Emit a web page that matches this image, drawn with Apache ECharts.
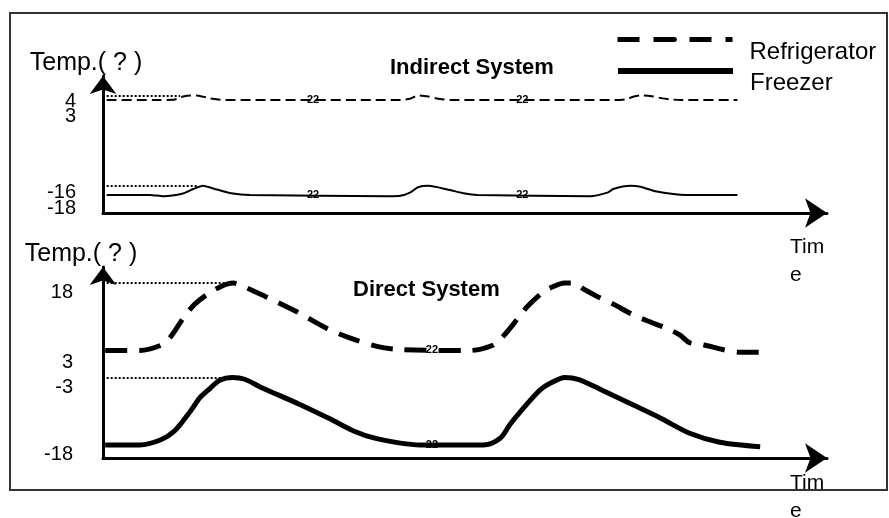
<!DOCTYPE html>
<html><head><meta charset="utf-8">
<script src="https://cdn.jsdelivr.net/npm/echarts@6/dist/echarts.min.js"></script>
<style>html,body{margin:0;padding:0;background:#fff}#c{width:889px;height:518px}</style>
</head><body><div id="c"></div><script>
// ---- data ----
const seriesNames = ['Refrigerator', 'Freezer'];
const panelTitles = ['Indirect System', 'Direct System'];
const yAxisTitle = 'Temp.( ? )';
const xAxisTitle = 'Tim\ne';

const topTickValues = [4, 3, -16, -18];
const topTickLabels = ['4', '3', '-16', '-18'];
const bottomTickValues = [18, 3, -3, -18];
const bottomTickLabels = ['18', '3', '-3', '-18'];

// Indirect system (time in arbitrary units, temperature in degrees)
const topFridgeTime = [0.5, 7.8, 9.8, 10.9, 11.9, 13.2, 14.6, 15.7, 16.6, 40.5, 41.8, 42.9, 44.3, 45.9, 47.3, 70.4, 71.1, 72.3, 73.2, 74.5, 76.2, 77.5, 78.6, 86.4];
const topFridgeTemp = [3, 3, 3.1, 3.75, 4, 3.9, 3.35, 3.1, 3, 3, 3.25, 4, 3.75, 3.2, 3, 3, 3.1, 3.75, 4, 3.9, 3.35, 3.1, 3, 3];
const topFreezerTime = [0.5, 6.4, 8.2, 10.9, 12.3, 13.6, 15.5, 17.7, 20.0, 38.8, 40.5, 41.8, 42.9, 44.3, 46.9, 49.3, 51.0, 66.3, 68.7, 69.5, 71.8, 73.2, 75.2, 77.7, 79.3, 86.4];
const topFreezerTemp = [-18, -18, -18.3, -17.7, -16.7, -16, -16.8, -17.7, -18, -18.3, -18.2, -17.5, -16.3, -16, -16.8, -17.7, -18, -18.3, -17.5, -16.7, -16, -16.2, -17.2, -17.8, -18, -18];

// Direct system
const botFridgeTime = [0.3, 5.0, 7.8, 9.1, 10.9, 12.5, 14.6, 16.6, 17.7, 19.3, 22.1, 26.4, 30.5, 33.6, 37.3, 40.5, 50.0, 53.0, 54.3, 56.5, 57.7, 59.5, 60.9, 62.9, 64.0, 65.6, 67.3, 69.5, 72.0, 74.1, 76.8, 78.6, 79.9, 81.7, 84.4, 86.7, 89.7];
const botFridgeTemp = [3, 3, 4.1, 5.8, 10.1, 13.3, 15.9, 17.6, 18, 17.1, 15.0, 11.6, 7.9, 5.8, 3.9, 3.2, 3, 4.1, 5.8, 10.1, 12.6, 15.4, 16.9, 18, 18, 16.5, 15.0, 13.3, 11.1, 9.6, 7.9, 6.4, 4.7, 4.3, 3.2, 2.6, 2.6];
const botFreezerTime = [0.3, 5.0, 7.8, 9.8, 11.9, 13.2, 14.6, 15.9, 17.7, 19.3, 21.4, 26.8, 30.9, 34.3, 37.0, 40.5, 43.2, 51.8, 54.1, 55.4, 57.7, 59.5, 60.9, 62.9, 64.7, 67.7, 71.8, 75.9, 79.9, 84.0, 89.5];
const botFreezerTemp = [-18, -18, -16.9, -14.8, -10.5, -7.5, -5.4, -3.6, -3, -3.4, -5.1, -9.0, -12.2, -15.0, -16.5, -17.6, -18, -18, -16.5, -13.5, -9.0, -5.8, -4.3, -3, -3.4, -5.6, -8.8, -12.0, -15.4, -17.4, -18.4];

// dotted guide lines from the axis to the peaks: [value, end time]
const topGuideValues = [4, -16];
const topGuideEnds = [10.5, 12.8];
const bottomGuideValues = [18, -3];
const bottomGuideEnds = [16.9, 16.3];

// time-axis break marks
const topBreakTimes = [28.6, 57.1];
const bottomBreakTimes = [44.8];

// ---- chart ----
const FONT = '"Liberation Sans", Arial, sans-serif';
const pairs = (xs, ys) => xs.map((x, i) => [x, ys[i]]);

// label set for a subset of the ticks (indices), shifted down by the given px
function tickAxisLabel(values, labels, idx, shifts, margin) {
  const rich = {};
  const vals = idx.map(i => values[i]);
  idx.forEach((i, k) => {
    rich['s' + i] = { fontSize: 20, fontFamily: FONT, color: '#000', padding: [shifts[k] * 2, 0, 0, 0] };
  });
  return {
    show: true,
    hideOverlap: false,
    customValues: vals,
    margin: margin,
    formatter: function (val) {
      const i = values.indexOf(val);
      return i < 0 ? '' : '{s' + i + '|' + labels[i] + '}';
    },
    rich: rich
  };
}

function guide(values, ends) {
  return {
    silent: true,
    animation: false,
    symbol: ['none', 'none'],
    label: { show: false },
    lineStyle: { type: 'dotted', color: '#000', width: 2 },
    data: values.map((v, i) => [{ coord: [0.5, v] }, { coord: [ends[i], v] }])
  };
}

function breaks(times, value) {
  return {
    silent: true,
    animation: false,
    symbol: 'rect',
    symbolSize: [1, 1],
    itemStyle: { color: 'rgba(0,0,0,0)' },
    label: { show: true, position: 'inside', formatter: '22', color: '#000', fontSize: 11, fontWeight: 'bold', fontFamily: FONT },
    data: times.map(t => ({ coord: [t, value] }))
  };
}

const xAxisBase = (grid, pad) => ({
  type: 'value', gridIndex: grid, min: 0, max: 98.6,
  axisLine: { show: true, onZero: false, lineStyle: { color: '#000', width: 3 }, symbol: ['none', 'arrow'], symbolSize: [22, 22] },
  axisTick: { show: false }, axisLabel: { show: false }, splitLine: { show: false },
  name: xAxisTitle, nameLocation: 'end', nameGap: -37,
  nameTextStyle: { fontSize: 21, fontFamily: FONT, color: '#000', align: 'left', verticalAlign: 'top', lineHeight: 28, padding: [pad, 0, 0, 0] }
});

const yAxisBase = (grid, min, max, label, padRight) => ({
  type: 'value', gridIndex: grid, min: min, max: max,
  axisLine: { show: true, onZero: false, lineStyle: { color: '#000', width: 3 }, symbol: ['none', 'arrow'], symbolSize: [20, 18] },
  axisTick: { show: false }, splitLine: { show: false },
  axisLabel: label,
  name: yAxisTitle, nameLocation: 'end', nameGap: 13,
  nameTextStyle: { fontSize: 25, fontFamily: FONT, color: '#000', align: 'center', verticalAlign: 'middle', padding: [0, padRight, 0, 0] }
});

// companion axis on the same grid carrying the remaining tick labels only
const yAxisLabelsOnly = (grid, min, max, label) => ({
  type: 'value', gridIndex: grid, min: min, max: max, position: 'left', offset: 0,
  axisLine: { show: false }, axisTick: { show: false }, splitLine: { show: false },
  axisLabel: label
});

const legendBase = (name, top, lineStyle) => ({
  data: [name], left: 615, top: top, padding: 0, itemWidth: 115, itemHeight: 5, selectedMode: false,
  lineStyle: lineStyle,
  formatter: '{t|{name}}',
  textStyle: { color: '#000', fontFamily: FONT, fontSize: 24,
    rich: { t: { fontSize: 24, color: '#000', fontFamily: FONT, padding: [25, 0, 0, 12] } } }
});

const topMin = -22, topMax = 8.3, botMin = -20.9, botMax = 21.55;

const option = {
  backgroundColor: '#fff',
  animation: false,
  textStyle: { fontFamily: FONT },
  title: [
    { text: panelTitles[0], left: 390, top: 57, padding: 0, textStyle: { fontSize: 22, fontWeight: 'bold', color: '#000', fontFamily: FONT } },
    { text: panelTitles[1], left: 353, top: 279, padding: 0, textStyle: { fontSize: 22, fontWeight: 'bold', color: '#000', fontFamily: FONT } }
  ],
  legend: [
    legendBase(seriesNames[0], 37, { width: 5, type: [22, 14], color: '#000' }),
    legendBase(seriesNames[1], 68, { width: 6, type: 'solid', color: '#000' })
  ],
  grid: [
    { left: 103, top: 76, width: 724, height: 137, outerBoundsMode: 'none', containLabel: false },
    { left: 103, top: 267, width: 724, height: 191, outerBoundsMode: 'none', containLabel: false }
  ],
  xAxis: [xAxisBase(0, 20), xAxisBase(1, 11)],
  yAxis: [
    yAxisBase(0, topMin, topMax, tickAxisLabel(topTickValues, topTickLabels, [1, 2], [17, 7], 27), 34),
    yAxisBase(1, botMin, botMax, tickAxisLabel(bottomTickValues, bottomTickLabels, [0, 2], [10, 10.5], 30), 44),
    yAxisLabelsOnly(0, topMin, topMax, tickAxisLabel(topTickValues, topTickLabels, [0, 3], [6.5, 14], 27)),
    yAxisLabelsOnly(1, botMin, botMax, tickAxisLabel(bottomTickValues, bottomTickLabels, [1, 3], [12.5, 10], 30))
  ],
  series: [
    { name: seriesNames[0], type: 'line', xAxisIndex: 0, yAxisIndex: 0, data: pairs(topFridgeTime, topFridgeTemp),
      symbol: 'none', smooth: 0.2, itemStyle: { color: '#000' }, lineStyle: { color: '#000', width: 2, type: [10, 5] },
      markLine: guide([topGuideValues[0]], [topGuideEnds[0]]), markPoint: breaks(topBreakTimes, 3) },
    { name: seriesNames[1], type: 'line', xAxisIndex: 0, yAxisIndex: 0, data: pairs(topFreezerTime, topFreezerTemp),
      symbol: 'none', smooth: 0.2, itemStyle: { color: '#000' }, lineStyle: { color: '#000', width: 2, type: 'solid' },
      markLine: guide([topGuideValues[1]], [topGuideEnds[1]]), markPoint: breaks(topBreakTimes, -18) },
    { name: seriesNames[0], type: 'line', xAxisIndex: 1, yAxisIndex: 1, data: pairs(botFridgeTime, botFridgeTemp),
      symbol: 'none', smooth: 0.3, itemStyle: { color: '#000' }, lineStyle: { color: '#000', width: 5, type: [22, 12] },
      markLine: guide([bottomGuideValues[0]], [bottomGuideEnds[0]]), markPoint: breaks(bottomBreakTimes, 3) },
    { name: seriesNames[1], type: 'line', xAxisIndex: 1, yAxisIndex: 1, data: pairs(botFreezerTime, botFreezerTemp),
      symbol: 'none', smooth: 0.3, itemStyle: { color: '#000' }, lineStyle: { color: '#000', width: 5, type: 'solid' },
      markLine: guide([bottomGuideValues[1]], [bottomGuideEnds[1]]), markPoint: breaks(bottomBreakTimes, -18) }
  ],
  graphic: [
    { type: 'rect', silent: true, z: 100, shape: { x: 10, y: 13, width: 877, height: 477 },
      style: { fill: 'none', stroke: '#333', lineWidth: 2 } }
  ]
};

const chart = echarts.init(document.getElementById('c'), null, { renderer: 'canvas' });
chart.setOption(option);
</script></body></html>
